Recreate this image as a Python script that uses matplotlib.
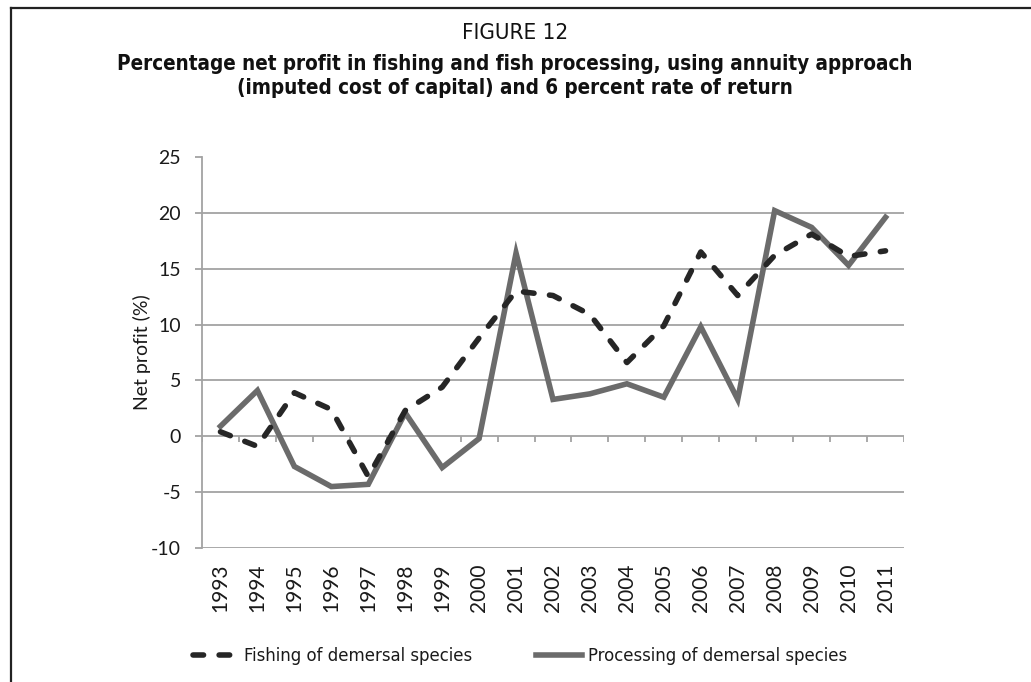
import matplotlib
matplotlib.use("Agg")
import matplotlib.pyplot as plt
from matplotlib.lines import Line2D
from matplotlib import font_manager
from matplotlib.font_manager import FontProperties

# --- data -------------------------------------------------------------
years = [str(y) for y in range(1993, 2012)]
fishing = [0.4, -0.9, 3.9, 2.4, -3.6, 2.3, 4.4, 8.8, 13.0, 12.6,
           10.9, 6.6, 9.9, 16.5, 12.6, 16.2, 18.1, 16.1, 16.6]
processing = [0.9, 4.1, -2.7, -4.5, -4.3, 2.1, -2.8, -0.2, 16.4, 3.3,
              3.8, 4.7, 3.5, 9.8, 3.3, 20.2, 18.7, 15.3, 19.6]
yticks = [-10, -5, 0, 5, 10, 15, 20, 25]

series_names = ["Fishing of demersal species", "Processing of demersal species"]
title_top = "FIGURE 12"
title_main = ("Percentage net profit in fishing and fish processing, using annuity approach\n"
              "(imputed cost of capital) and 6 percent rate of return")


# --- fonts ------------------------------------------------------------
def narrow_font(bold):
    """Pick an installed narrow/condensed face, falling back to DejaVu Sans."""
    cands = []
    for f in font_manager.fontManager.ttflist:
        key = (f.name + " " + f.fname).lower()
        is_narrow = ("narrow" in key or "condensed" in key
                     or str(f.stretch) in ("condensed", "semi-condensed",
                                           "extra-condensed", "ultra-condensed"))
        if not is_narrow or "italic" in key or "oblique" in key:
            continue
        w = f.weight if isinstance(f.weight, int) else (700 if "bold" in str(f.weight) else 400)
        if bold and w < 600:
            continue
        if not bold and w >= 600:
            continue
        if "light" in key or "thin" in key or "black" in key or "semibold" in key:
            continue
        pref = 0 if "liberation" in key else (1 if "dejavu" in key else 2)
        cands.append((pref, f.fname))
    if cands:
        cands.sort()
        return FontProperties(fname=cands[0][1])
    return FontProperties(family="DejaVu Sans", weight="bold" if bold else "normal")


fp_reg = narrow_font(False)
fp_bold = narrow_font(True)
installed = {f.name for f in font_manager.fontManager.ttflist}
tick_font = "Lato" if "Lato" in installed else "DejaVu Sans"

W, H = 1031, 682
fig = plt.figure(figsize=(W / 100, H / 100), dpi=100)
fig.patch.set_facecolor("white")

# page frame (left and top rules)
frame_c = "#222222"
fig.add_artist(Line2D([11 / W, 11 / W], [0, 1 - 8 / H], transform=fig.transFigure,
                      color=frame_c, lw=1.6, solid_capstyle="projecting"))
fig.add_artist(Line2D([11 / W, 1.0], [1 - 8 / H, 1 - 8 / H], transform=fig.transFigure,
                      color=frame_c, lw=1.6, solid_capstyle="projecting"))

# titles
t1 = fp_reg.copy(); t1.set_size(16)
t2 = fp_bold.copy(); t2.set_size(14.8)
fig.text(515 / W, 1 - 33 / H, title_top, ha="center", va="center",
         fontproperties=t1, color="#111111")
fig.text(515 / W, 1 - 76 / H, title_main, ha="center", va="center",
         fontproperties=t2, color="#111111", linespacing=1.3)

# --- axes ---------------------------------------------------------------
left, right, top, bottom = 202, 904, 157, 548
ax = fig.add_axes([left / W, 1 - bottom / H, (right - left) / W, (bottom - top) / H])

grid_c = "#a3a3a3"
x = list(range(len(years)))
ax.set_xlim(-0.5, len(years) - 0.5)
ax.set_ylim(-10, 25)

for yv in yticks:
    if yv != 25:
        ax.axhline(yv, color=grid_c, lw=1.3, zorder=1)

# category boundary ticks hanging below the zero line
bounds = [i - 0.5 for i in range(len(years) + 1)]
ax.vlines(bounds, -0.5, 0, color=grid_c, lw=1.3, zorder=1)

line_w = 4.0
proc_line, = ax.plot(x, processing, color="#6b6b6b", lw=line_w,
                     solid_joinstyle="miter", zorder=3)
fish_line, = ax.plot(x, fishing, color="#262626", lw=line_w,
                     dash_capstyle="round", zorder=4)
fish_line.set_dashes((1.9, 2.8))

for s in ("top", "right", "bottom"):
    ax.spines[s].set_visible(False)
ax.spines["left"].set_color(grid_c)
ax.spines["left"].set_linewidth(1.3)

ax.set_yticks(yticks)
ax.set_yticklabels([str(v) for v in yticks])
ax.tick_params(axis="y", direction="out", length=5, width=1.3, color=grid_c,
               labelsize=14, labelcolor="#1a1a1a", pad=10)
for lab in ax.get_yticklabels():
    lab.set_family(tick_font)

ax.set_xticks(x)
ax.set_xticklabels(years, rotation=90)
ax.tick_params(axis="x", length=0, labelsize=15, labelcolor="#1a1a1a", pad=11)
for lab in ax.get_xticklabels():
    lab.set_family(tick_font)

ax.set_ylabel("Net profit (%)", fontsize=14, family=tick_font, color="#1a1a1a",
              labelpad=0)

# legend entries, one per series, laid out side by side
lp = fp_reg.copy(); lp.set_size(13.2)
h_fish = Line2D([], [], color="#262626", lw=line_w, dash_capstyle="round")
h_fish.set_dashes((1.9, 2.8))
h_proc = Line2D([], [], color="#6b6b6b", lw=line_w)
for handle, name, x0 in ((h_fish, series_names[0], 184), (h_proc, series_names[1], 527)):
    lg = fig.legend([handle], [name], loc="center left",
                    bbox_to_anchor=(x0 / W, 1 - 656 / H), frameon=False,
                    handlelength=2.5, handletextpad=0.3, borderpad=0.0,
                    prop=lp)
    for t in lg.get_texts():
        t.set_color("#1a1a1a")

fig.savefig("out.png", dpi=100, facecolor="white")
